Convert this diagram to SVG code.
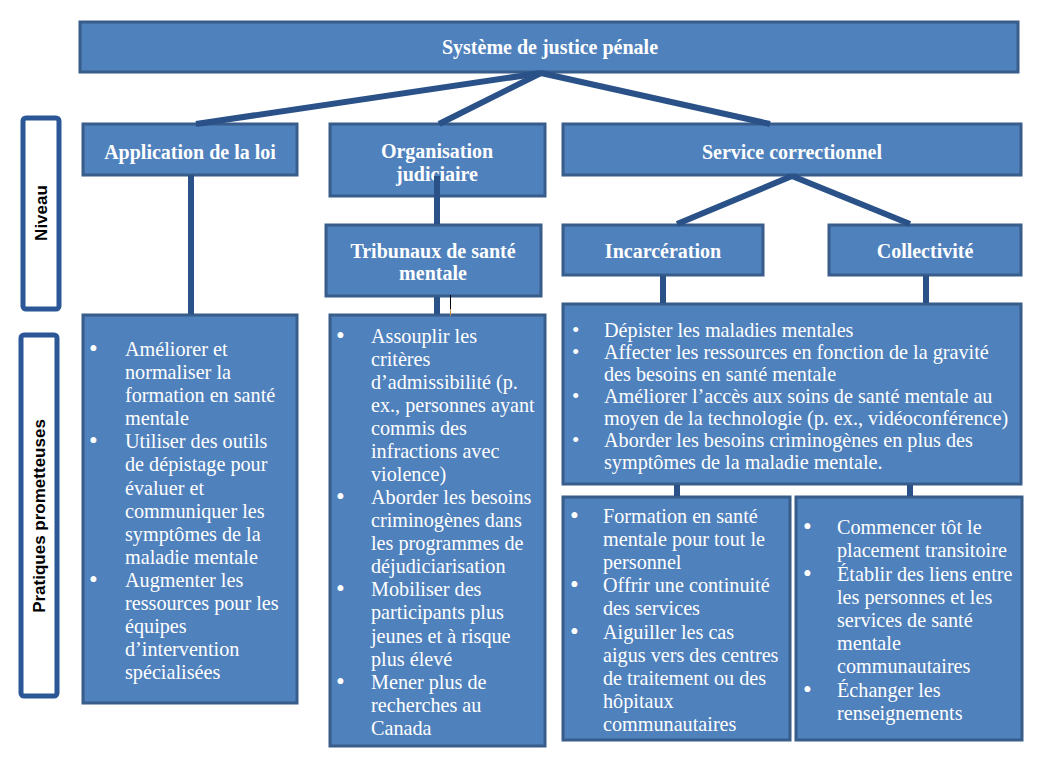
<svg xmlns="http://www.w3.org/2000/svg" width="1045" height="761" viewBox="0 0 1045 761">
<style>
.box{fill:#4F81BD;stroke:#385D8A;stroke-width:3}
.side{fill:#FFFFFF;stroke:#2B5797;stroke-width:5}
.title{font-family:"Liberation Serif","Times New Roman",serif;font-weight:bold;font-size:20px;fill:#FFFFFF;text-anchor:middle;dominant-baseline:central}
.txt{font-family:"Liberation Serif","Times New Roman",serif;font-size:20.2px;fill:#FFFFFF;dominant-baseline:central}
.b{font-size:25px}
.bs{font-size:21px}
.side-t{font-family:"Liberation Sans",Arial,sans-serif;font-weight:bold;font-size:17px;fill:#000000;text-anchor:middle;dominant-baseline:central}
.conn{stroke:#2A5289;stroke-width:6;fill:none}
</style>
<rect width="1045" height="761" fill="#FFFFFF"/>

<g id="niveau">
<rect class="side" x="23" y="118" width="36" height="191" rx="3"/>
<text class="side-t" transform="translate(41,213) rotate(-90)">Niveau</text>
</g>
<g id="pratiques">
<rect class="side" x="21" y="335" width="36" height="361" rx="3"/>
<text class="side-t" transform="translate(39,516) rotate(-90)">Pratiques prometteuses</text>
</g>

<g id="systeme">
<rect class="box" x="80" y="22" width="938" height="50"/>
<text class="title" x="550" y="47">Système de justice pénale</text>
</g>
<g id="application">
<rect class="box" x="83" y="124" width="214" height="51"/>
<text class="title" x="190" y="152">Application de la loi</text>
</g>
<g id="organisation">
<rect class="box" x="330" y="124" width="215" height="72"/>
<text class="title" x="437" y="151">Organisation</text>
<text class="title" x="437" y="174">judiciaire</text>
</g>
<g id="service">
<rect class="box" x="563" y="124" width="458" height="51"/>
<text class="title" x="792" y="152">Service correctionnel</text>
</g>
<g id="tribunaux">
<rect class="box" x="326" y="225" width="215" height="71"/>
<text class="title" x="433" y="251">Tribunaux de santé</text>
<text class="title" x="433" y="273">mentale</text>
</g>
<g id="incarceration">
<rect class="box" x="563" y="225" width="200" height="50"/>
<text class="title" x="663" y="251">Incarcération</text>
</g>
<g id="collectivite">
<rect class="box" x="829" y="225" width="192" height="50"/>
<text class="title" x="925" y="251">Collectivité</text>
</g>

<g id="application-pratiques">
<rect class="box" x="83" y="315" width="214" height="388"/>
<g class="txt">
<text class="b" x="89" y="348">•</text>
<text x="125" y="349">Améliorer et</text>
<text x="125" y="372">normaliser la</text>
<text x="125" y="395">formation en santé</text>
<text x="125" y="418">mentale</text>
<text class="b" x="89" y="440">•</text>
<text x="125" y="441">Utiliser des outils</text>
<text x="125" y="464">de dépistage pour</text>
<text x="125" y="488">évaluer et</text>
<text x="125" y="511">communiquer les</text>
<text x="125" y="534">symptômes de la</text>
<text x="125" y="557">maladie mentale</text>
<text class="b" x="89" y="579">•</text>
<text x="125" y="580">Augmenter les</text>
<text x="125" y="603">ressources pour les</text>
<text x="125" y="626">équipes</text>
<text x="125" y="649">d’intervention</text>
<text x="125" y="672">spécialisées</text>
</g>
</g>

<g id="tribunaux-pratiques">
<rect class="box" x="330" y="315" width="215" height="431"/>
<g class="txt">
<text class="b" x="336" y="335">•</text>
<text x="371" y="336">Assouplir les</text>
<text x="371" y="359">critères</text>
<text x="371" y="382">d’admissibilité (p.</text>
<text x="371" y="405">ex., personnes ayant</text>
<text x="371" y="428">commis des</text>
<text x="371" y="451">infractions avec</text>
<text x="371" y="474">violence)</text>
<text class="b" x="336" y="496">•</text>
<text x="371" y="497">Aborder les besoins</text>
<text x="371" y="520">criminogènes dans</text>
<text x="371" y="543">les programmes de</text>
<text x="371" y="566">déjudiciarisation</text>
<text class="b" x="336" y="588">•</text>
<text x="371" y="589">Mobiliser des</text>
<text x="371" y="612">participants plus</text>
<text x="371" y="636">jeunes et à risque</text>
<text x="371" y="659">plus élevé</text>
<text class="b" x="336" y="681">•</text>
<text x="371" y="682">Mener plus de</text>
<text x="371" y="705">recherches au</text>
<text x="371" y="728">Canada</text>
</g>
</g>

<g id="service-pratiques">
<rect class="box" x="563" y="304" width="458" height="180"/>
<g class="txt">
<text class="bs" x="572" y="330">•</text>
<text x="604" y="330">Dépister les maladies mentales</text>
<text class="bs" x="572" y="352">•</text>
<text x="604" y="352">Affecter les ressources en fonction de la gravité</text>
<text x="604" y="374">des besoins en santé mentale</text>
<text class="bs" x="572" y="396">•</text>
<text x="604" y="396">Améliorer l’accès aux soins de santé mentale au</text>
<text x="604" y="418">moyen de la technologie (p. ex., vidéoconférence)</text>
<text class="bs" x="572" y="440">•</text>
<text x="604" y="440">Aborder les besoins criminogènes en plus des</text>
<text x="604" y="462">symptômes de la maladie mentale.</text>
</g>
</g>

<g id="incarceration-pratiques">
<rect class="box" x="563" y="497" width="227" height="243"/>
<g class="txt">
<text class="b" x="570" y="515">•</text>
<text x="603" y="516">Formation en santé</text>
<text x="603" y="539">mentale pour tout le</text>
<text x="603" y="562">personnel</text>
<text class="b" x="570" y="584">•</text>
<text x="603" y="585">Offrir une continuité</text>
<text x="603" y="608">des services</text>
<text class="b" x="570" y="631">•</text>
<text x="603" y="632">Aiguiller les cas</text>
<text x="603" y="655">aigus vers des centres</text>
<text x="603" y="678">de traitement ou des</text>
<text x="603" y="701">hôpitaux</text>
<text x="603" y="724">communautaires</text>
</g>
</g>

<g id="collectivite-pratiques">
<rect class="box" x="796" y="497" width="226" height="243"/>
<g class="txt">
<text class="b" x="803" y="526">•</text>
<text x="837" y="527">Commencer tôt le</text>
<text x="837" y="550">placement transitoire</text>
<text class="b" x="803" y="573">•</text>
<text x="837" y="574">Établir des liens entre</text>
<text x="837" y="597">les personnes et les</text>
<text x="837" y="620">services de santé</text>
<text x="837" y="643">mentale</text>
<text x="837" y="666">communautaires</text>
<text class="b" x="803" y="689">•</text>
<text x="837" y="690">Échanger les</text>
<text x="837" y="713">renseignements</text>
</g>
</g>

<g id="connectors">
<line class="conn" x1="541" y1="73" x2="196" y2="124"/>
<line class="conn" x1="541" y1="73" x2="439" y2="124"/>
<line class="conn" x1="541" y1="73" x2="770" y2="124"/>
<line class="conn" x1="191" y1="175" x2="191" y2="314"/>
<line class="conn" x1="437" y1="176" x2="437" y2="224"/>
<line class="conn" x1="437" y1="297" x2="437" y2="314"/>
<line class="conn" x1="792" y1="176" x2="677" y2="224"/>
<line class="conn" x1="792" y1="176" x2="910" y2="224"/>
<line class="conn" x1="663" y1="276" x2="663" y2="303"/>
<line class="conn" x1="926" y1="276" x2="926" y2="303"/>
<line class="conn" x1="677" y1="485" x2="677" y2="496"/>
<line class="conn" x1="910" y1="485" x2="910" y2="496"/>
<line x1="450.5" y1="295" x2="450.5" y2="309" stroke="#000000" stroke-width="1"/>
<line x1="450.5" y1="309" x2="450.5" y2="316" stroke="#C8914B" stroke-width="1"/>
</g>
</svg>
